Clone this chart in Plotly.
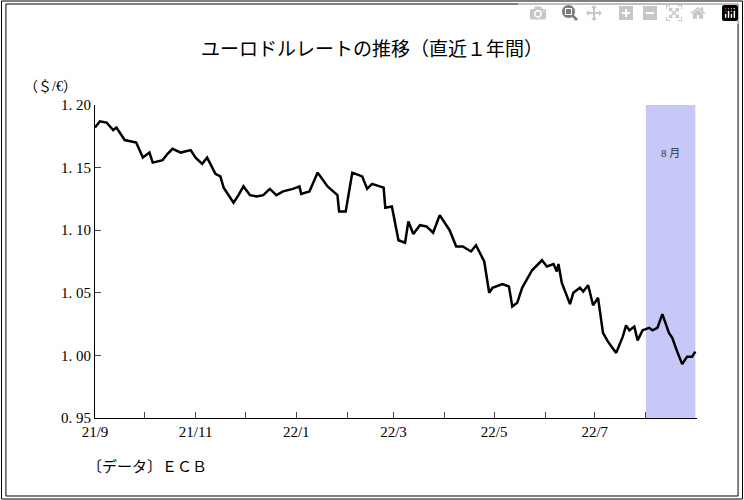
import pandas as pd
import plotly.graph_objects as go

days = [0,3,7,11,13,18,25,29,33,35,41,44,47,52,58,61,65,68,73,76,78,84,87,90,94,98,102,106,110,114,120,124,125,130,135,141,147,148,152,156,162,165,168,175,176,180,184,188,190,193,197,201,205,209,215,219,223,228,231,236,239,241,247,251,253,256,259,265,271,274,278,280,281,283,288,290,294,296,299,302,305,308,311,316,320,322,324,327,329,332,336,338,341,344,348,350,353,356,359,362,364]
rates = [1.182,1.187,1.186,1.180,1.182,1.172,1.170,1.158,1.162,1.154,1.156,1.161,1.165,1.162,1.164,1.158,1.153,1.158,1.145,1.143,1.134,1.122,1.128,1.135,1.128,1.127,1.128,1.133,1.128,1.131,1.133,1.135,1.129,1.131,1.146,1.135,1.128,1.115,1.115,1.146,1.143,1.133,1.137,1.134,1.118,1.119,1.092,1.090,1.107,1.097,1.104,1.103,1.098,1.112,1.100,1.087,1.087,1.083,1.088,1.075,1.050,1.054,1.057,1.055,1.039,1.042,1.054,1.068,1.076,1.071,1.073,1.067,1.073,1.058,1.041,1.050,1.054,1.051,1.056,1.040,1.046,1.018,1.011,1.002,1.015,1.024,1.020,1.023,1.012,1.020,1.022,1.020,1.022,1.033,1.018,1.014,1.003,0.993,0.999,0.999,1.003]
start = pd.Timestamp("2021-09-01")
dates = [start + pd.Timedelta(days=d) for d in days]
tick_dates = pd.date_range("2021-09-01", "2022-09-01", freq="MS")
tick_labels = ["21/9","","21/11","","22/1","","22/3","","22/5","","22/7","",""]
y_ticks = [0.95,1.00,1.05,1.10,1.15,1.20]
y_labels = ["0. 95","1. 00","1. 05","1. 10","1. 15","1. 20"]

serif = "Liberation Serif, Noto Sans CJK JP"
fig = go.Figure()
fig.add_shape(type="rect", xref="x", yref="y", x0="2022-08-01", x1="2022-08-31", y0=0.95, y1=1.20,
              fillcolor="#c8c8f8", line_width=0, layer="below")
fig.add_trace(go.Scatter(x=dates, y=rates, mode="lines", line=dict(color="black", width=2.5), showlegend=False))
fig.add_annotation(x="2022-08-16", y=1.162, text="8 月", showarrow=False, xref="x", yref="y",
                   font=dict(size=11, family=serif, color="#333"))
fig.add_annotation(x=0.46, y=1.233, xref="paper", yref="paper", text="ユーロドルレートの推移（直近１年間）",
                   showarrow=False, font=dict(size=19, family="Noto Sans CJK JP", color="black"))
fig.add_annotation(x=-0.121, y=1.089, xref="paper", yref="paper", xanchor="left", text="（＄/€）",
                   showarrow=False, font=dict(size=14, family=serif, color="black"))
fig.add_annotation(x=-0.017, y=-0.192, xref="paper", yref="paper", xanchor="left", text="〔データ〕ＥＣＢ",
                   showarrow=False, font=dict(size=15, family="Noto Sans CJK JP", color="black"))
for inset in (0.002, 0.008):
    fig.add_shape(type="rect", xref="paper", yref="paper", x0=-95/602+inset*744/602, x1=1+47/602-inset*744/602,
                  y0=-82/313+inset*500/313, y1=1+105/313-inset*500/313, line=dict(color="black", width=1))
fig.update_layout(
    width=744, height=500, margin=dict(l=95, r=47, t=105, b=82),
    plot_bgcolor="white", paper_bgcolor="white",
    xaxis=dict(range=[start, pd.Timestamp("2022-09-01")], tickvals=tick_dates, ticktext=tick_labels,
               showline=True, linecolor="black", linewidth=1, ticks="inside", ticklen=6, showgrid=False,
               tickfont=dict(size=15, family=serif, color="black")),
    yaxis=dict(range=[0.95, 1.20], tickvals=y_ticks, ticktext=y_labels, showline=True, linecolor="black",
               linewidth=1, ticks="inside", ticklen=6, showgrid=False, zeroline=False,
               tickfont=dict(size=15, family=serif, color="black")),
)
fig.write_html("out.html")
with open("out.html", encoding="utf-8") as f:
    html = f.read()
html = html.replace("<body>", '<body style="margin:0">', 1)
with open("out.html", "w", encoding="utf-8") as f:
    f.write(html)
